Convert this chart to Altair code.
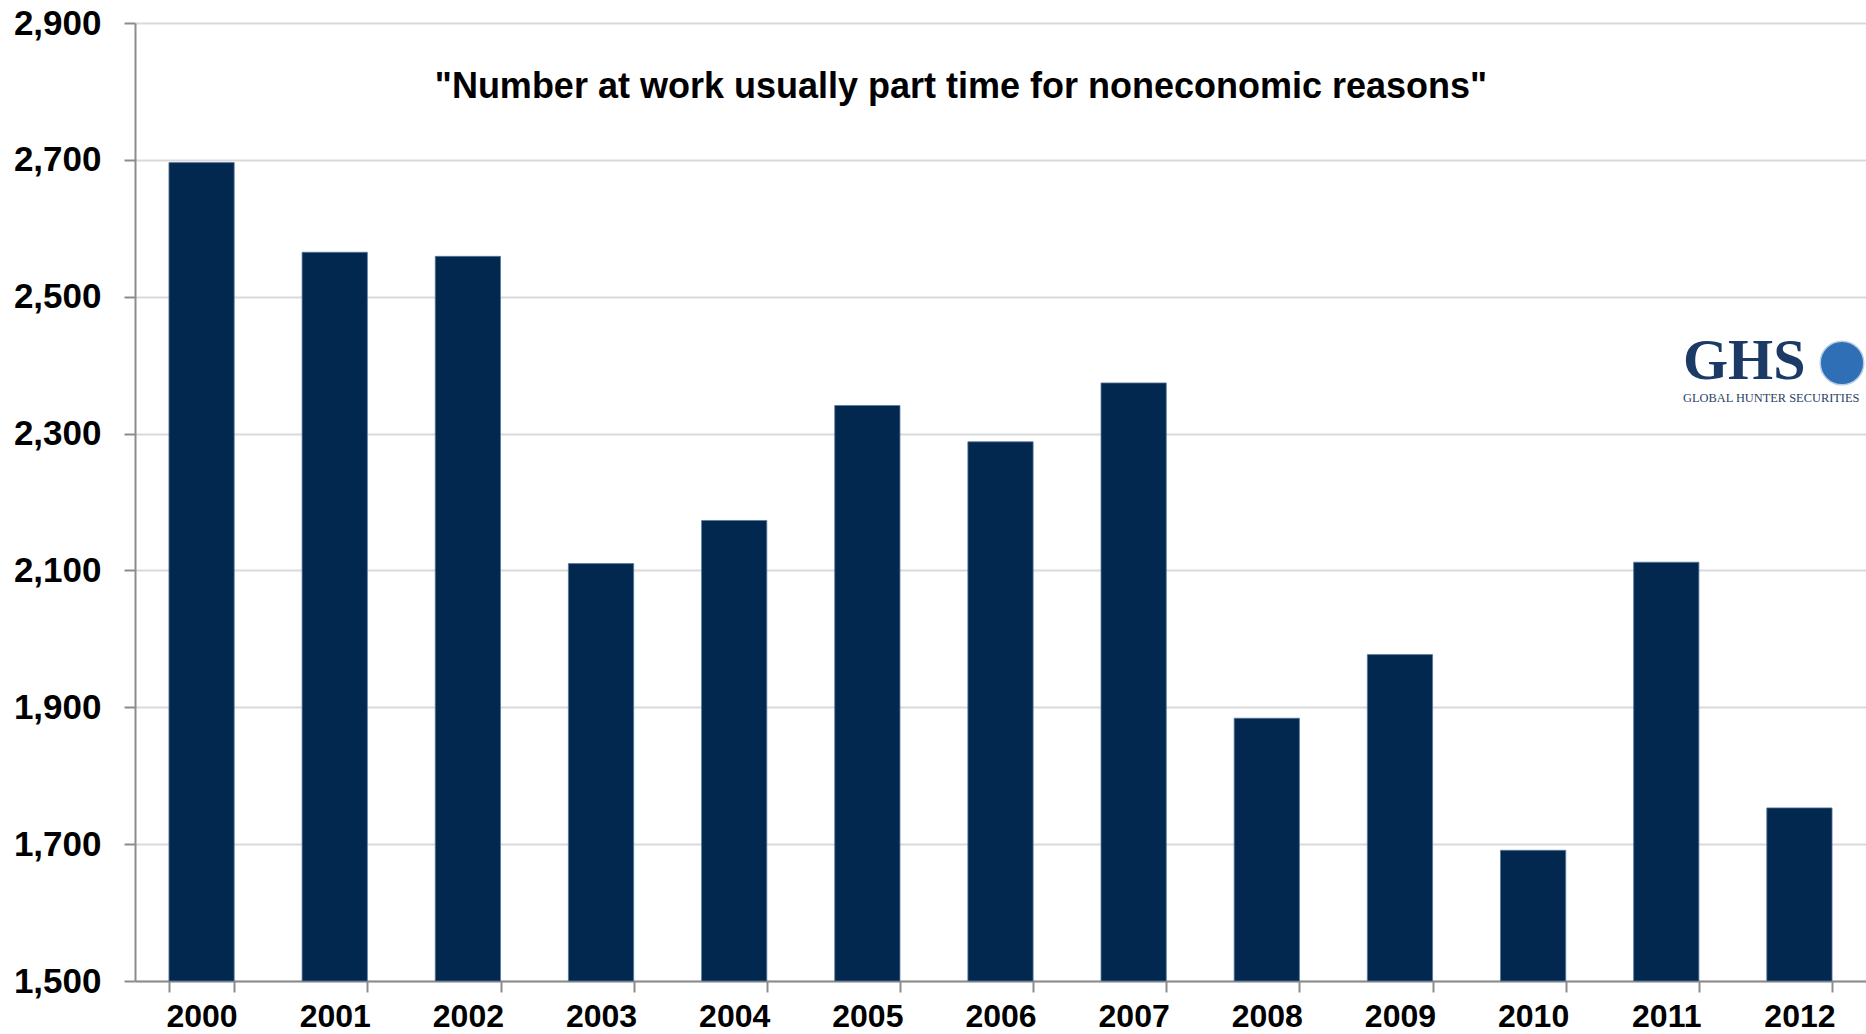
import altair as alt
import pandas as pd

years = ["2000", "2001", "2002", "2003", "2004", "2005", "2006",
         "2007", "2008", "2009", "2010", "2011", "2012"]
values = [2696, 2565, 2559, 2110, 2173, 2341, 2288, 2374, 1884, 1977, 1691, 2112, 1753]
y_ticks = [1500, 1700, 1900, 2100, 2300, 2500, 2700, 2900]
title_text = '"Number at work usually part time for noneconomic reasons"'

df = pd.DataFrame({"year": years, "value": values})

FONT = "Liberation Sans"

x_enc = alt.X(
    "year:N",
    sort=years,
    title=None,
    scale=alt.Scale(paddingInner=0.51, paddingOuter=0.255),
    axis=alt.Axis(
        labelAngle=0,
        labelFont=FONT,
        labelFontSize=32,
        labelFontWeight="bold",
        labelColor="#000000",
        labelPadding=9,
        tickBand="extent",
        tickSize=11,
        tickColor="#8c8c8c",
        tickWidth=2,
        domainColor="#8c8c8c",
        domainWidth=2,
        grid=False,
    ),
)

y_enc = alt.Y(
    "value:Q",
    title=None,
    scale=alt.Scale(domain=[1500, 2900], zero=False, nice=False),
    axis=alt.Axis(
        values=y_ticks,
        format=",d",
        labelFont=FONT,
        labelFontSize=35,
        labelFontWeight="bold",
        labelColor="#000000",
        labelPadding=23,
        tickSize=11,
        tickColor="#8c8c8c",
        tickWidth=2,
        domainColor="#8c8c8c",
        domainWidth=2,
        grid=True,
        gridColor="#d9d9d9",
        gridWidth=2,
    ),
)

bars = alt.Chart(df).mark_bar(color="#03284f", stroke="#5877a0", strokeWidth=0.8).encode(
    x=x_enc,
    y=y_enc,
    y2=alt.Y2(datum=1500),
)

title = alt.Chart(pd.DataFrame({"t": [title_text]})).mark_text(
    font=FONT, fontSize=36, fontWeight="bold", color="#000000",
    align="center", baseline="middle",
).encode(text="t:N", x=alt.value(826), y=alt.value(64))

ghs = alt.Chart(pd.DataFrame({"t": ["GHS"]})).mark_text(
    font="Liberation Serif", fontSize=58, fontWeight="bold", color="#1c3a66",
    align="left", baseline="alphabetic",
).encode(text="t:N", x=alt.value(1548), y=alt.value(356))

ghs_sub = alt.Chart(pd.DataFrame({"t": ["GLOBAL HUNTER SECURITIES"]})).mark_text(
    font="Liberation Serif", fontSize=12.4, color="#2a3f63",
    align="left", baseline="alphabetic",
).encode(text="t:N", x=alt.value(1548), y=alt.value(379))

globe = alt.Chart(pd.DataFrame({"t": ["globe"]})).mark_point(
    shape="circle", filled=True, color="#2f6fb6", stroke="#b8cde6",
    strokeWidth=1.5, opacity=1, size=1900,
).encode(x=alt.value(1707), y=alt.value(340))

chart = alt.layer(bars, title, ghs, ghs_sub, globe).properties(
    width=1731,
    height=958,
    padding={"left": 135, "top": 23, "right": 0, "bottom": 53},
    autosize=alt.AutoSizeParams(type="none"),
    background="#ffffff",
).configure_view(stroke=None)

chart.save("out.html", embed_options={"renderer": "svg", "actions": False})
